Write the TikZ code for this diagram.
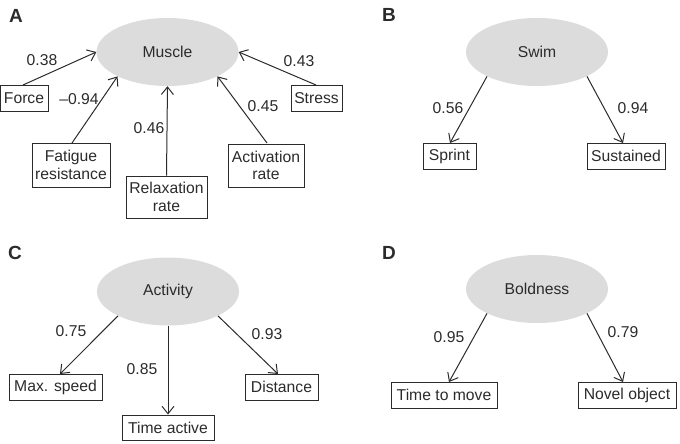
\documentclass[tikz,border=0pt]{standalone}
\usepackage{fontspec}
\setmainfont{Liberation Sans}
\usetikzlibrary{arrows.meta,shapes.geometric}
\definecolor{txt}{HTML}{2B2B2B}
\definecolor{latent}{HTML}{DCDCDC}
\tikzset{
  base/.style={text=txt,font=\fontsize{15.7}{17.5}\selectfont},
  latentnode/.style={base,ellipse,fill=latent,draw=none,minimum width=142pt,minimum height=68pt,inner sep=0pt},
  obs/.style={base,draw=txt,line width=0.9pt,inner sep=0pt,align=center},
  coef/.style={base,inner sep=0pt},
  panel/.style={text=txt,font=\fontsize{19}{21}\selectfont\bfseries,inner sep=0pt},
  link/.style={draw=txt,line width=1pt,-{Straight Barb[length=7.5pt,width=12pt,line width=1pt]}}
}
\begin{document}
\begin{tikzpicture}[x=1pt,y=-1pt]
\useasboundingbox (0,0) rectangle (680,444);
% Panel A
\node[panel] (la) at (16,16) {A};
\node[latentnode] (muscle) at (167.5,52) {Muscle};
\node[obs,minimum width=48pt,minimum height=26pt] (force) at (24,98) {Force};
\node[obs,minimum width=51pt,minimum height=26pt] (stress) at (316.5,98) {Stress};
\node[obs,minimum width=78pt,minimum height=44pt] (fatigue) at (71,165) {Fatigue\\resistance};
\node[obs,minimum width=81pt,minimum height=42pt] (relax) at (166.5,197) {Relaxation\\rate};
\node[obs,minimum width=76pt,minimum height=43pt] (activ) at (266,165.5) {Activation\\rate};
\coordinate (fo) at (23,85);
\coordinate (fa) at (72,143);
\coordinate (ac) at (267,143);
\coordinate (st) at (316,85);
\draw[link] (fo) -- (muscle.west);
\draw[link] (fa) -- (muscle.206);
\draw[link] (relax.north) -- (muscle.south);
\draw[link] (ac) -- (muscle.334);
\draw[link] (st) -- (muscle.east);
\node[coef] (c1) at (42,60) {0.38};
\node[coef] (c2) at (79,99) {\textendash0.94};
\node[coef] (c3) at (149,128) {0.46};
\node[coef] (c4) at (263,106) {0.45};
\node[coef] (c5) at (299,61) {0.43};
% Panel B
\node[panel] (lb) at (389,15) {B};
\node[latentnode] (swim) at (537,52) {Swim};
\node[obs,minimum width=53pt,minimum height=26pt] (sprint) at (449.5,156) {Sprint};
\node[obs,minimum width=78pt,minimum height=26pt] (sust) at (626,156) {Sustained};
\coordinate (spt) at (450,143);
\coordinate (sut) at (623,143);
\draw[link] (swim.206) -- (spt);
\draw[link] (swim.334) -- (sut);
\node[coef] (c6) at (448,108) {0.56};
\node[coef] (c7) at (633,108) {0.94};
% Panel C
\node[panel] (lc) at (15,253) {C};
\node[latentnode] (act) at (168,291.5) {Activity};
\node[obs,minimum width=93pt,minimum height=26pt] (maxs) at (55.5,387) {Max. speed};
\node[obs,minimum width=92pt,minimum height=25pt] (tact) at (168,427.5) {Time active};
\node[obs,minimum width=73pt,minimum height=26pt] (dist) at (281.5,387) {Distance};
\coordinate (mst) at (60,374);
\coordinate (dit) at (278,374);
\draw[link] (act.206) -- (mst);
\draw[link] (act.south) -- (tact.north);
\draw[link] (act.334) -- (dit);
\node[coef] (c8) at (71,331) {0.75};
\node[coef] (c9) at (142,369) {0.85};
\node[coef] (c10) at (267,334) {0.93};
% Panel D
\node[panel] (ld) at (389,253) {D};
\node[latentnode] (bold) at (537,289) {Boldness};
\node[obs,minimum width=106pt,minimum height=26pt] (ttm) at (444,395) {Time to move};
\node[obs,minimum width=98pt,minimum height=26pt] (novel) at (627,395) {Novel object};
\coordinate (tmt) at (449,382);
\coordinate (not) at (623,382);
\draw[link] (bold.206) -- (tmt);
\draw[link] (bold.334) -- (not);
\node[coef] (c11) at (449,337) {0.95};
\node[coef] (c12) at (623,332) {0.79};
\end{tikzpicture}
\end{document}
